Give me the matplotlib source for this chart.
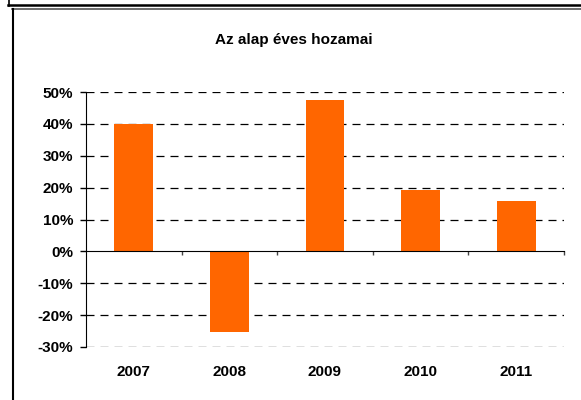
import matplotlib.pyplot as plt
from matplotlib.lines import Line2D
from matplotlib.ticker import FuncFormatter

plt.rcParams["font.family"] = ["Liberation Sans", "DejaVu Sans"]

years = ["2007", "2008", "2009", "2010", "2011"]
returns = [40.0, -25.3, 47.6, 19.1, 15.7]
y_ticks = [-30, -20, -10, 0, 10, 20, 30, 40, 50]

W, H = 581, 400
fig = plt.figure(figsize=(W / 100, H / 100), dpi=100)

# frame lines around the chart (pixel positions converted to figure coords)
def px_line(x0, y0, x1, y1, color, lw):
    fig.add_artist(Line2D([x0 / W, x1 / W], [1 - y0 / H, 1 - y1 / H],
                          color=color, lw=lw, transform=fig.transFigure))

px_line(8, 4.8, W, 4.8, "black", 1.8)
px_line(8.5, 0, 8.5, 5.5, "black", 1.2)
px_line(12, 9.2, W, 9.2, "#555555", 1.2)
px_line(12.7, 9, 12.7, H, "black", 1.5)

ax = fig.add_axes([86 / W, 1 - 347 / H, (564 - 86) / W, (347 - 92) / H])

x = list(range(len(years)))
ax.bar(x, returns, width=0.405, color="#FF6600", zorder=3)

ax.set_xlim(-0.5, len(years) - 0.5)
ax.set_ylim(-30, 50)
ax.set_yticks(y_ticks)
ax.yaxis.set_major_formatter(FuncFormatter(lambda v, p: f"{v:.0f}%"))
ax.tick_params(axis="y", length=4.3, width=1, pad=5, labelsize=11)
for lab in ax.get_yticklabels():
    lab.set_fontweight("bold")

for v in y_ticks:
    if v != 0:
        ax.axhline(v, color="black", lw=0.9, ls=(0, (6.4, 4.8)), zorder=1)

for s in ["top", "right"]:
    ax.spines[s].set_visible(False)
ax.spines["bottom"].set_position(("data", 0))
ax.spines["bottom"].set_zorder(4)
ax.set_xticks([i + 0.5 for i in x])
ax.set_xticklabels([])
ax.tick_params(axis="x", length=3, width=1, direction="out", color="#444444")

sec = ax.secondary_xaxis("bottom")
sec.set_xticks(x)
sec.set_xticklabels(years, fontsize=11, fontweight="bold")
sec.tick_params(length=0, pad=13)
sec.spines["bottom"].set_visible(False)

fig.text(294 / W, 1 - 40 / H, "Az alap éves hozamai", ha="center", va="center",
         fontsize=11, fontweight="bold")

fig.savefig("out.png", dpi=100)
